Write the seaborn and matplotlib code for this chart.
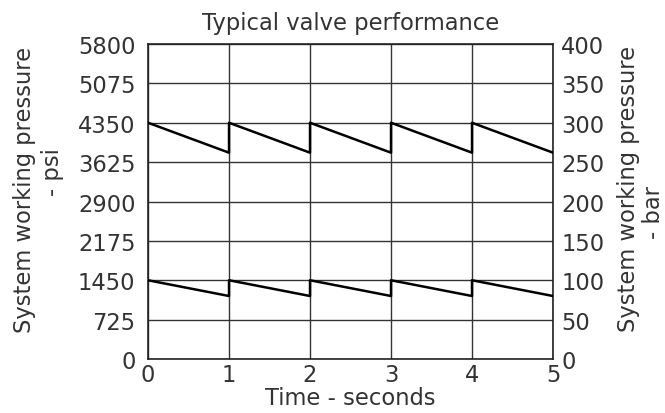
import matplotlib
matplotlib.use("Agg")
import matplotlib.pyplot as plt
import seaborn as sns
import pandas as pd

# sawtooth values (bar)
time_s = [0, 1, 1, 2, 2, 3, 3, 4, 4, 5]
high_bar = [300, 262, 300, 262, 300, 262, 300, 262, 300, 262]
low_bar = [100, 80, 100, 80, 100, 80, 100, 80, 100, 80]

psi_ticks = [0, 725, 1450, 2175, 2900, 3625, 4350, 5075, 5800]
bar_ticks = [0, 50, 100, 150, 200, 250, 300, 350, 400]
x_ticks = [0, 1, 2, 3, 4, 5]
PSI_PER_BAR = 14.5

sns.set_theme(style="white")
plt.rcParams["font.family"] = ["DejaVu Sans"]
FS = 16.3
TXT = "#333333"
W, H = 665, 414

fig = plt.figure(figsize=(6.65, 4.14), dpi=100)
ax = fig.add_axes([0.2226, 0.1304, 0.609, 0.7609])

df = pd.DataFrame({
    "t": time_s + time_s,
    "psi": [b * PSI_PER_BAR for b in high_bar] + [b * PSI_PER_BAR for b in low_bar],
    "grp": ["high"] * len(time_s) + ["low"] * len(time_s),
})
sns.lineplot(data=df, x="t", y="psi", units="grp", estimator=None, sort=False,
             color="black", linewidth=1.8, ax=ax, zorder=3)

ax.set_xlim(0, 5)
ax.set_ylim(0, 5800)
ax.set_xticks(x_ticks)
ax.set_yticks(psi_ticks)
ax.grid(True, color="#333333", linewidth=1.0)
for s in ax.spines.values():
    s.set_color("#222222")
    s.set_linewidth(1.2)
ax.tick_params(axis="both", length=0, labelsize=FS, colors=TXT)
ax.tick_params(axis="y", pad=9)
ax.tick_params(axis="x", pad=3)
ax.set_xlabel("Time - seconds", fontsize=FS, color=TXT, labelpad=0)
ax.set_ylabel("")
ax.set_title("Typical valve performance", fontsize=FS, color=TXT, pad=11)

ax2 = ax.twinx()
ax2.set_ylim(0, 400)
ax2.set_yticks(bar_ticks)
ax2.grid(False)
for s in ax2.spines.values():
    s.set_visible(False)
ax2.tick_params(axis="y", length=0, labelsize=FS, colors=TXT, pad=6)
ax2.set_ylabel("")

# axis titles, placed as in the reference
lab = dict(rotation=90, ha="center", va="center", fontsize=FS, color=TXT)
fig.text(25 / W, 1 - 190 / H, "System working pressure", **lab)
fig.text(53 / W, 1 - 172 / H, "- psi", **lab)
fig.text(628 / W, 1 - 189 / H, "System working pressure", **lab)
fig.text(654 / W, 1 - 213 / H, "- bar", **lab)

fig.savefig("out.png", dpi=100)
